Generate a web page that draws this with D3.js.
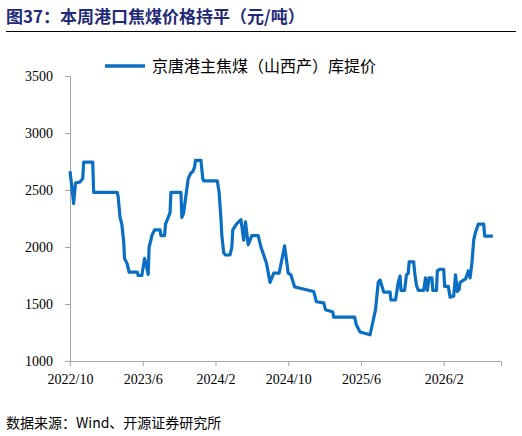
<!DOCTYPE html>
<html><head><meta charset="utf-8">
<script src="https://cdn.jsdelivr.net/npm/d3@7"></script>
<style>body{margin:0;background:#fff}</style>
</head><body><div id="chart"></div>
<script>
// months since 2022/10, price (元/吨)
var months = [0,0.2,0.4,0.6,1.1,1.4,1.5,2.5,2.6,5.2,5.3,5.5,5.7,5.9,6.0,6.3,6.5,7.4,7.5,7.9,8.1,8.2,8.5,8.6,8.7,8.9,9.0,9.3,9.9,10.0,10.4,10.5,10.8,11.0,11.1,12.2,12.3,12.5,12.8,13.0,13.3,13.5,13.7,13.8,14.4,14.6,14.7,16.2,16.4,16.6,16.7,16.9,17.1,17.6,17.8,17.9,18.3,18.8,19.1,19.3,19.6,20.0,20.7,21.0,21.6,22.0,22.4,23.0,23.6,24.0,24.3,24.7,25.2,26.8,27.1,27.9,28.1,28.9,29.0,31.3,31.5,31.9,33.0,33.3,33.6,33.9,34.1,34.5,35.2,35.3,35.8,36.1,36.3,36.4,36.8,37.0,37.2,37.3,37.8,37.9,38.1,38.3,38.9,39.1,39.2,39.3,39.5,39.8,39.9,40.3,40.4,40.7,41.1,41.2,41.6,41.8,42.2,42.4,42.6,42.8,42.9,43.5,43.8,44.0,44.2,44.4,44.6,44.9,45.5,45.6,46.5];
var prices = [2665,2530,2380,2560,2570,2600,2745,2745,2480,2480,2440,2260,2200,2050,1900,1850,1780,1780,1750,1750,1850,1900,1800,1760,2000,2060,2100,2150,2150,2100,2100,2200,2260,2300,2480,2480,2260,2300,2480,2600,2650,2660,2700,2760,2760,2600,2580,2580,2480,2250,2100,1950,1930,1930,2000,2150,2200,2240,2060,2220,2020,2100,2100,2000,1860,1690,1770,1770,2010,1770,1755,1650,1640,1610,1520,1510,1450,1430,1385,1385,1315,1255,1230,1340,1450,1690,1710,1605,1605,1535,1535,1690,1745,1620,1620,1755,1770,1870,1870,1780,1665,1620,1620,1730,1660,1620,1730,1730,1620,1620,1790,1805,1805,1655,1655,1560,1570,1755,1610,1630,1690,1720,1790,1730,1860,2060,2130,2200,2200,2095,2095];
var tickPos = [0,8,16,24,32,41.1];
var tickLabels = ["2022/10","2023/6","2024/2","2024/10","2025/6","2026/2"];
var yTicks = [1000,1500,2000,2500,3000,3500];

var svg = d3.select("#chart").append("svg").attr("width",522).attr("height",436);
var serif = "Liberation Serif";

svg.append("text").attr("x",6).attr("y",23)
  .attr("font-family","Noto Sans CJK SC").attr("font-weight","bold")
  .attr("font-size","17px").attr("fill","#1f2a78")
  .text("图37：本周港口焦煤价格持平（元/吨）");
svg.append("line").attr("x1",6).attr("x2",516).attr("y1",31.5).attr("y2",31.5)
  .attr("stroke","#000").attr("stroke-width",1);

var x = d3.scaleLinear().domain([0,47.4]).range([70,501]);
var y = d3.scaleLinear().domain([1000,3500]).range([361,76]);

var xa = svg.append("g").attr("transform","translate(0,361)")
  .call(d3.axisBottom(x).tickValues(tickPos).tickFormat((d,i)=>tickLabels[i]).tickSizeOuter(0).tickSize(5));
var ya = svg.append("g").attr("transform","translate(70,0)")
  .call(d3.axisLeft(y).tickValues(yTicks).tickFormat(d3.format("d")).tickSizeOuter(0).tickSize(5).tickPadding(12));
[xa,ya].forEach(function(a){
  a.attr("font-family",serif).attr("font-size",14);
  a.selectAll("path,line").attr("stroke","#a6a6a6");
  a.selectAll("text").attr("fill","#000");
});
xa.selectAll("text").attr("dy","1.1em");

var line = d3.line().x(d=>x(d[0])).y(d=>y(d[1]));
svg.append("path").datum(months.map((m,i)=>[m,prices[i]]))
  .attr("d",line).attr("fill","none").attr("stroke","#0a6fc2")
  .attr("stroke-width",3.2).attr("stroke-linejoin","round");

svg.append("line").attr("x1",105).attr("x2",145).attr("y1",66).attr("y2",66)
  .attr("stroke","#0a6fc2").attr("stroke-width",3.5);
svg.append("text").attr("x",152).attr("y",72).attr("font-family","Noto Sans CJK SC")
  .attr("font-size","16px").attr("fill","#000").text("京唐港主焦煤（山西产）库提价");

svg.append("text").attr("x",6).attr("y",428).attr("font-family","Noto Sans CJK SC")
  .attr("font-size","14px").attr("fill","#000").text("数据来源：Wind、开源证券研究所");
</script></body></html>
